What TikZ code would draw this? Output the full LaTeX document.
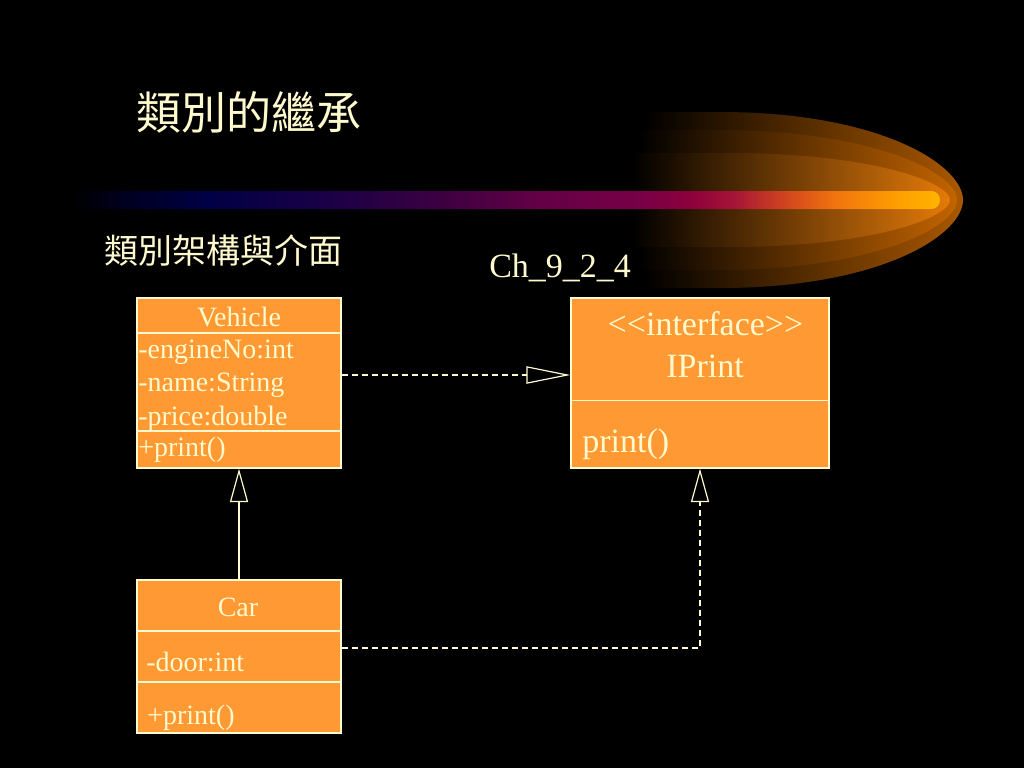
\documentclass[tikz,border=0pt]{standalone}
\usepackage{fontspec}
\setmainfont{Liberation Serif}
\newfontfamily\cjk{Noto Sans CJK TC}
\usetikzlibrary{arrows.meta}

\definecolor{umlfill}{RGB}{255,153,51}
\definecolor{umltext}{RGB}{255,250,205}
\definecolor{cometout}{RGB}{170,88,0}
\definecolor{cometmid}{RGB}{195,100,0}
\definecolor{cometin}{RGB}{228,122,10}
\definecolor{cometoutm}{RGB}{100,50,0}
\definecolor{cometmidm}{RGB}{128,64,0}
\definecolor{cometinm}{RGB}{165,85,5}
\definecolor{stA}{RGB}{0,0,30}
\definecolor{stB}{RGB}{0,0,70}
\definecolor{stC}{RGB}{30,0,70}
\definecolor{stD}{RGB}{60,0,65}
\definecolor{stE}{RGB}{100,0,70}
\definecolor{stF}{RGB}{120,0,70}
\definecolor{stG}{RGB}{140,0,60}
\definecolor{stH}{RGB}{165,20,55}
\definecolor{stI}{RGB}{210,70,30}
\definecolor{stJ}{RGB}{240,115,15}
\definecolor{stK}{RGB}{255,160,0}
\definecolor{stL}{RGB}{255,180,0}
\pgfdeclarehorizontalshading{streak}{100bp}{color(0bp)=(black); color(25bp)=(black);
  color(27.9bp)=(stA); color(32.9bp)=(stB); color(40.5bp)=(stC); color(46.3bp)=(stD);
  color(52bp)=(stE); color(57.8bp)=(stF); color(60.6bp)=(stG); color(63.1bp)=(stH);
  color(66.2bp)=(stI); color(68.9bp)=(stJ); color(72.7bp)=(stK); color(75bp)=(stL);
  color(100bp)=(stL)}

\begin{document}
\begin{tikzpicture}[x=0.75pt, y=-0.75pt,
    umlbox/.style={draw=umltext, fill=umlfill, line width=1pt, inner sep=0pt},
    umlline/.style={draw=umltext, line width=1pt},
    umllabel/.style={text=umltext, inner sep=0pt, font=\fontsize{21}{21}\selectfont},
    biglabel/.style={text=umltext, inner sep=0pt, font=\fontsize{25.5}{25.5}\selectfont},
    inherits/.style={draw=umltext, line width=0.9pt, -{Triangle[open, length=25pt, width=13.5pt]}},
    realizes/.style={inherits, dash pattern=on 4.5pt off 3pt}]
  \useasboundingbox (0,0) rectangle (1024,768);
  \fill[black] (0,0) rectangle (1024,768);

  % comet
  \shade[left color=black, middle color=cometoutm, right color=cometout] (645,112) -- (720,112)
    .. controls (880,112) and (963,165) .. (963,200)
    .. controls (963,235) and (880,288) .. (720,288) -- (645,288) -- cycle;
  \shade[left color=black, middle color=cometmidm, right color=cometmid] (640,130) -- (720,130)
    .. controls (870,130) and (957,172) .. (957,200)
    .. controls (957,228) and (870,270) .. (720,270) -- (640,270) -- cycle;
  \shade[left color=black, middle color=cometinm, right color=cometin] (633,153) -- (730,153)
    .. controls (870,153) and (950,182) .. (950,200)
    .. controls (950,218) and (870,247) .. (730,247) -- (633,247) -- cycle;
  \shade[shading=streak, rounded corners=6.5pt] (70,191) rectangle (940,209);

  % titles
  \node[anchor=base west, text=umltext, inner sep=0pt, font=\cjk\fontsize{33.75}{33.75}\selectfont]
    (title) at (136,129) {類別的繼承};
  \node[anchor=base west, text=umltext, inner sep=0pt, font=\cjk\fontsize{25.5}{25.5}\selectfont]
    (subtitle) at (104,263) {類別架構與介面};
  \node[biglabel, anchor=base west] (chapter) at (489,277) {Ch\_9\_2\_4};

  % Vehicle
  \node[umlbox, minimum width=153pt, minimum height=127.5pt] (vehicle) at (239,383) {};
  \draw[umlline] (137,333) -- (341,333);
  \draw[umlline] (137,431) -- (341,431);
  \node[umllabel, anchor=base] (vehiclename) at (239,326) {Vehicle};
  \node[umllabel, anchor=base west] (engineno) at (138,358) {-engineNo:int};
  \node[umllabel, anchor=base west] (name) at (138,391.5) {-name:String};
  \node[umllabel, anchor=base west] (price) at (138,425) {-price:double};
  \node[umllabel, anchor=base west] (vehicleprint) at (138,456.5) {+print()};

  % IPrint
  \node[umlbox, minimum width=193.5pt, minimum height=127.5pt] (iprint) at (700,383) {};
  \draw[umlline] (571,400.5) -- (829,400.5);
  \node[biglabel, anchor=base] (stereo) at (705.5,335) {<{}<interface>{}>};
  \node[biglabel, anchor=base] (iprintname) at (705,377) {IPrint};
  \node[biglabel, anchor=base west] (iprintprint) at (582,452) {print()};

  % Car
  \node[umlbox, minimum width=153pt, minimum height=114.75pt] (car) at (239,656.5) {};
  \draw[umlline] (137,631) -- (341,631);
  \draw[umlline] (137,682) -- (341,682);
  \node[umllabel, anchor=base] (carname) at (238,616) {Car};
  \node[umllabel, anchor=base west] (door) at (146,671.5) {-door:int};
  \node[umllabel, anchor=base west] (carprint) at (147,724) {+print()};

  % relations
  \draw[inherits] (car) -- (vehicle);
  \draw[realizes, -{Triangle[open, length=33pt, width=13pt]}]
    ([yshift=6pt]vehicle.east) -- ([yshift=6pt]vehicle.east -| iprint.west);
  \draw[realizes] ([yshift=6.375pt]car.east) -| (iprint.south);
\end{tikzpicture}
\end{document}
